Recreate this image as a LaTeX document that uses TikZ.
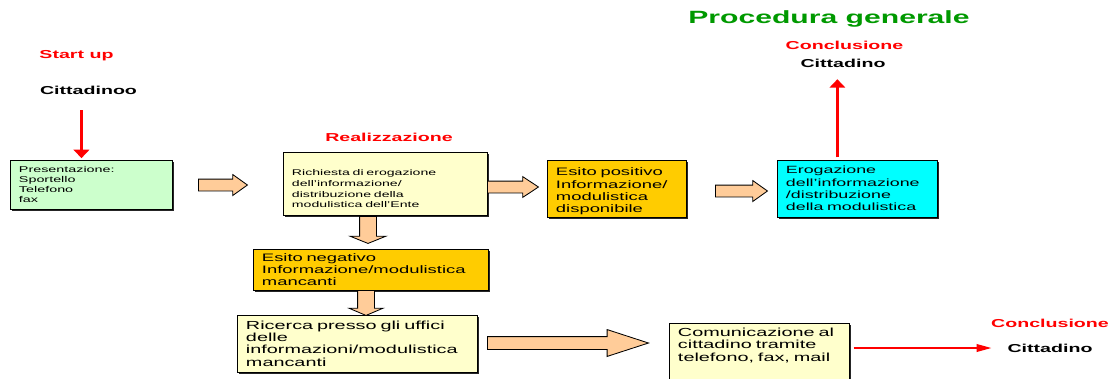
\documentclass[tikz,border=0pt]{standalone}
\usepackage{fontspec}
\setmainfont{Liberation Sans}[FakeStretch=1.7]
\usetikzlibrary{shapes.arrows, shadows, arrows.meta}

\definecolor{paleGreen}{RGB}{204,255,204}
\definecolor{paleYellow}{RGB}{255,255,204}
\definecolor{goldBox}{RGB}{255,204,0}
\definecolor{peach}{RGB}{255,204,153}
\definecolor{titleGreen}{RGB}{0,153,0}
\definecolor{brightCyan}{RGB}{0,255,255}

\begin{document}
\begin{tikzpicture}[x=0.025cm, y=-0.025cm,
            box/.style={rectangle, draw, line width=0.6pt, align=left, inner xsep=0.225cm, drop shadow={shadow xshift=1.2pt, shadow yshift=-1.2pt, fill=black, opacity=0.85}},
            fat/.style={single arrow, draw, line width=0.6pt, fill=peach, inner xsep=0pt, anchor=tail},
            heading/.style={font=\fontsize{8.2}{10}\selectfont\bfseries},
            redarrow/.style={draw=red, line width=2pt, -{Triangle[width=11pt, length=6pt]}},
            thinred/.style={draw=red, line width=1pt, -{Triangle[width=5.5pt, length=10.5pt]}}
        ]
            \clip (0,0) rectangle (1112,378);

            % Title
            \node[font=\fontsize{12.6}{15}\selectfont\bfseries, text=titleGreen] (title) at (829, 19) {Procedura generale};

            % Labels
            \node[heading, text=red] (startup) at (76.5, 56) {Start up};
            \node[heading] (cit1) at (88.5, 90) {Cittadinoo};
            \node[heading, text=red] (real) at (389, 137) {Realizzazione};
            \node[heading, text=red] (conc1) at (844.5, 45) {Conclusione};
            \node[heading] (cit2) at (843, 63) {Cittadino};
            \node[heading, text=red] (conc2) at (1050, 323) {Conclusione};
            \node[heading] (cit3) at (1050, 348) {Cittadino};

            % Boxes
            \node[box, fill=paleGreen, text width=3.6cm, minimum height=1.225cm, font=\fontsize{6}{7}\selectfont] (pres) at (91, 184.5) {Presentazione:\\Sportello\\Telefono\\fax};
            \node[box, fill=paleYellow, text width=4.65cm, minimum height=1.575cm, font=\fontsize{5.9}{7.6}\selectfont] (req) at (385, 183.5) {\rule{0pt}{12pt}Richiesta di erogazione\\dell'informazione/\\distribuzione della\\modulistica dell'Ente};
            \node[box, fill=goldBox, text width=3.025cm, minimum height=1.425cm, inner ysep=0pt, font=\fontsize{7.7}{8.7}\selectfont] (pos) at (616.5, 188.5) {\rule{0pt}{9.7pt}Esito positivo\\Informazione/\\modulistica\\disponibile};
            \node[box, fill=brightCyan, text width=3.55cm, minimum height=1.425cm, font=\fontsize{7.45}{8.7}\selectfont] (erog) at (857, 188.5) {Erogazione\\dell'informazione\\/distribuzione\\della modulistica};
            \node[box, fill=goldBox, text width=5.425cm, minimum height=1cm, font=\fontsize{7.7}{8.5}\selectfont] (neg) at (370.5, 270) {Esito negativo\\Informazione/modulistica\\mancanti};
            \node[box, fill=paleYellow, text width=5.55cm, minimum height=1.425cm, font=\fontsize{8.3}{8.7}\selectfont] (ric) at (357, 343.5) {Ricerca presso gli uffici\\delle\\informazioni/modulistica\\mancanti};
            \node[box, fill=paleYellow, text width=4.05cm, anchor=north, font=\fontsize{8.3}{8.7}\selectfont] (com) at (759, 323) {Comunicazione al\\cittadino tramite\\telefono, fax, mail\\\rule{0pt}{22pt}};

            % Block arrows
            \node[fat, minimum height=1.225cm, inner ysep=0.1375cm, single arrow head extend=0.1125cm, single arrow tip angle=71] (arr1) at (198, 185) {};
            \node[fat, minimum height=1.275cm, inner ysep=0.1375cm, single arrow head extend=0.1125cm, single arrow tip angle=67] (arr2) at (487, 187) {};
            \node[fat, minimum height=1.3cm, inner ysep=0.1375cm, single arrow head extend=0.1125cm, single arrow tip angle=71] (arr3) at (715, 191) {};
            \node[fat, rotate=-90, minimum height=0.675cm, inner ysep=0.2cm, single arrow head extend=0.2375cm, single arrow tip angle=136] (arr4) at (368, 216) {};
            \node[fat, rotate=-90, minimum height=0.625cm, inner ysep=0.2cm, single arrow head extend=0.2125cm, single arrow tip angle=134] (arr5) at (366, 290) {};
            \node[fat, minimum height=4.025cm, inner ysep=0.15cm, single arrow head extend=0.175cm, single arrow tip angle=36] (arr6) at (487, 343) {};

            % Arrows
            \draw[redarrow, shorten <=8pt, shorten >=1pt] ([xshift=-5pt]cit1.south) -- ([xshift=-5pt]cit1.south |- pres.north);
            \draw[redarrow, shorten <=1.5pt, shorten >=5pt] ([xshift=-4pt]cit2.south |- erog.north) -- ([xshift=-4pt]cit2.south);
            \draw[thinred, shorten <=3pt, shorten >=8pt] (com.east |- cit3) -- (cit3.west);
        \end{tikzpicture}
\end{document}
